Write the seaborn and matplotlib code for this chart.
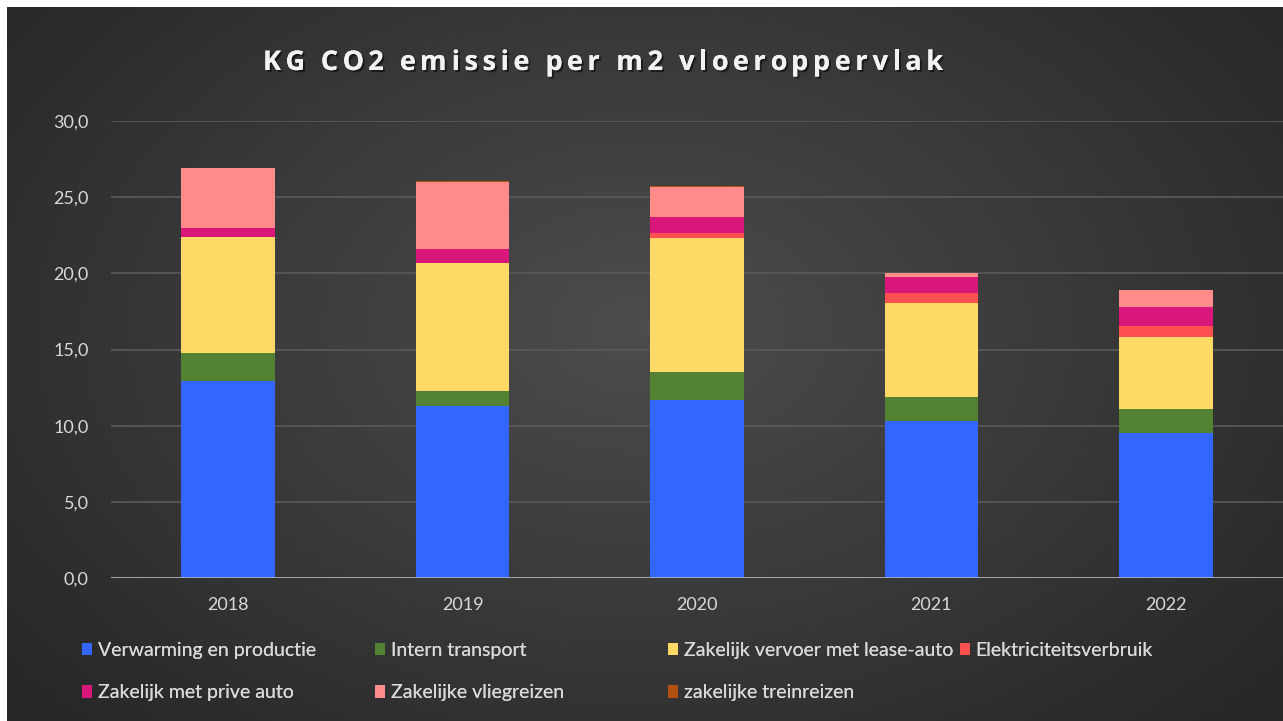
import numpy as np
import pandas as pd
import matplotlib
matplotlib.use("Agg")
import matplotlib.pyplot as plt
from matplotlib.patches import Patch
import matplotlib.patheffects as pe
from matplotlib.font_manager import FontProperties
import seaborn as sns

years = ["2018", "2019", "2020", "2021", "2022"]
series_names = [
    "Verwarming en productie",
    "Intern transport",
    "Zakelijk vervoer met lease-auto",
    "Elektriciteitsverbruik",
    "Zakelijk met prive auto",
    "Zakelijke vliegreizen",
    "zakelijke treinreizen",
]
verwarming = [12.9, 11.3, 11.7, 10.3, 9.5]
intern = [1.9, 1.0, 1.85, 1.55, 1.6]
lease = [7.6, 8.4, 8.8, 6.2, 4.7]
elektriciteit = [0.0, 0.0, 0.3, 0.65, 0.75]
prive = [0.55, 0.9, 1.05, 1.05, 1.25]
vlieg = [3.95, 4.4, 1.95, 0.25, 1.1]
trein = [0.03, 0.03, 0.1, 0.02, 0.02]
colors = ["#3366FF", "#548235", "#FFD966", "#FF5050", "#D9167A", "#FF8B8B", "#B4500F"]
title = "KG CO2 emissie per m2 vloeroppervlak"

values = [verwarming, intern, lease, elektriciteit, prive, vlieg, trein]
cum = np.cumsum(np.array(values), axis=0)

sns.set_theme(style="dark")
plt.rcParams["font.family"] = ["Lato", "DejaVu Sans"]

W, H = 1283, 721
fig = plt.figure(figsize=(W / 100, H / 100), dpi=100, facecolor="white")

# background with radial gradient
bg = fig.add_axes([7 / W, 0, 1 - 7 / W, 1 - 7 / H])
yy, xx = np.mgrid[0:1:300j, 0:1:530j]
r = np.sqrt(((xx - 0.5) / 0.75) ** 2 + ((yy - 0.45) / 0.9) ** 2)
g = np.clip(0.30 - 0.17 * r, 0.15, 0.30)
bg.imshow(np.dstack([g, g, g]), aspect="auto", extent=[0, 1, 0, 1], interpolation="bilinear")
bg.set_axis_off()

ax = fig.add_axes([111 / W, 1 - 578 / H, 1172 / W, 457 / H])
ax.set_facecolor((0, 0, 0, 0))
ax.patch.set_alpha(0)

df = pd.DataFrame({"year": years})
for i in range(len(series_names) - 1, -1, -1):
    df["v"] = cum[i]
    sns.barplot(data=df, x="year", y="v", color=colors[i], width=0.4,
                saturation=1, linewidth=0, ax=ax, zorder=2)

ax.set_ylim(0, 30)
ax.set_xlim(-0.5, 4.5)
ax.set_yticks(np.arange(0, 31, 5))
ax.set_yticklabels([f"{v:.1f}".replace(".", ",") for v in np.arange(0, 31, 5)])
ax.yaxis.grid(True, color="#5a5a5a", linewidth=1.2, zorder=0)
ax.xaxis.grid(False)
ax.set_axisbelow(True)
ax.axhline(0, color="#bfbfbf", linewidth=1.8, zorder=3)
for s in ax.spines.values():
    s.set_visible(False)
ax.tick_params(axis="y", length=0, pad=16, labelsize=13, labelcolor="#d9d9d9")
ax.tick_params(axis="x", length=0, pad=14, labelsize=13, labelcolor="#d9d9d9")
ax.set_xlabel("")
ax.set_ylabel("")

# title with letter spacing (placed character by character)
renderer = fig.canvas.get_renderer()
fp = FontProperties(family=["Open Sans", "DejaVu Sans"], weight="bold", size=19.5)
def text_w(s):
    w, _, _ = renderer.get_text_width_height_descent(s, fp, ismath=False)
    return w
ref_w = text_w("x")
prefix = [text_w(title[:k] + "x") - ref_w for k in range(len(title))]
natural = text_w(title)
target_left, target_right = 263, 943
spacing = ((target_right - target_left) - natural) / (len(title) - 1)
for k, ch in enumerate(title):
    if ch == " ":
        continue
    x = target_left + prefix[k] + k * spacing
    fig.text(x / W, 1 - 63 / H, ch, ha="left", va="center", fontproperties=fp,
             color="#f2f2f2",
             path_effects=[pe.withSimplePatchShadow(offset=(1.5, -1.5), shadow_rgbFace="black", alpha=0.5),
                           pe.Normal()])

# legend in 4 columns
cols = [[0, 4], [1, 5], [2, 6], [3]]
xpos = [82, 375, 668, 960]
for c, x in zip(cols, xpos):
    handles = [Patch(facecolor=colors[i], edgecolor="none", label=series_names[i]) for i in c]
    leg = fig.legend(handles=handles, loc="upper left", bbox_to_anchor=(x / W, 1 - 642 / H),
                     frameon=False, fontsize=14, handlelength=0.5, handleheight=0.6,
                     handletextpad=0.3, labelspacing=1.3, borderpad=0, borderaxespad=0,
                     labelcolor="#d9d9d9")
    fig.add_artist(leg)

fig.savefig("out.png", dpi=100, facecolor="white")
